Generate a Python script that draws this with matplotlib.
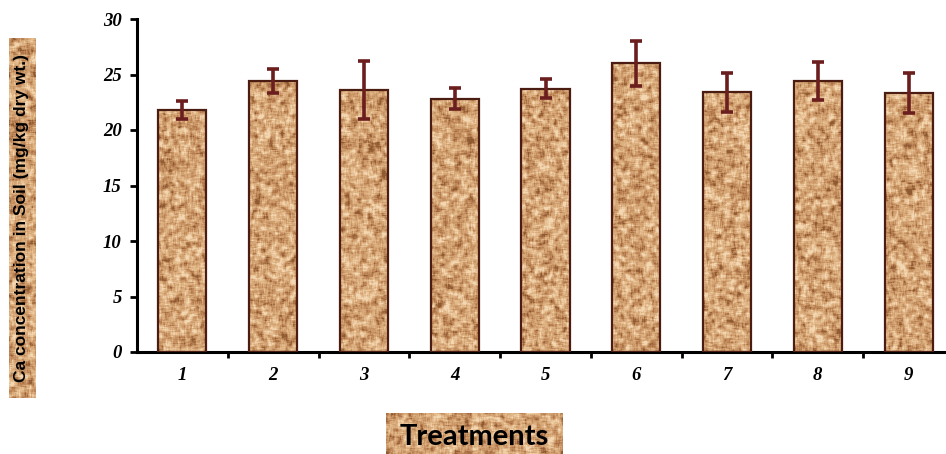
import matplotlib
matplotlib.use("Agg")
import matplotlib.pyplot as plt
import numpy as np
from matplotlib.colors import LinearSegmentedColormap
from matplotlib.ticker import FixedLocator

# ----------------------------------------
# Data
# ----------------------------------------
treatments = ["1", "2", "3", "4", "5", "6", "7", "8", "9"]
ca_mean = [21.8, 24.4, 23.6, 22.8, 23.7, 26.0, 23.4, 24.4, 23.3]
ca_err = [0.85, 1.1, 2.6, 0.95, 0.85, 2.0, 1.75, 1.7, 1.8]

# ----------------------------------------
# Cork-like texture used for bars and label boxes
# ----------------------------------------
cork_cmap = LinearSegmentedColormap.from_list(
    "cork", ["#8e5a32", "#b98052", "#d1a070", "#e3b98a", "#f3d6b2"])


def blur(a, k):
    out = np.zeros_like(a)
    for dy in range(-k, k + 1):
        for dx in range(-k, k + 1):
            out += np.roll(np.roll(a, dy, 0), dx, 1)
    return out / (2 * k + 1) ** 2


def cork(h, w, seed):
    rng = np.random.default_rng(seed)
    fine = blur(rng.random((h, w)), 1)
    coarse = blur(rng.random((h, w)), 2)
    t = 0.35 * (fine - fine.mean()) / fine.std() + (coarse - coarse.mean()) / coarse.std()
    t = (t - t.mean()) / t.std()
    return np.clip(0.55 + 0.22 * t, 0, 1)


# ----------------------------------------
# Figure
# ----------------------------------------
fig = plt.figure(figsize=(9.46, 4.54), dpi=100)
W, H = 946, 454
ax = fig.add_axes([137 / W, (H - 352) / H, 817 / W, 333 / H])

x = np.arange(len(treatments))
bar_w = 0.53
bars = ax.bar(x, ca_mean, width=bar_w, facecolor="none",
              edgecolor="#4a1c12", linewidth=1.6, zorder=3)

for i, b in enumerate(bars):
    x0 = b.get_x()
    tex = cork(int(b.get_height() * 11.1), 48, i + 1)
    ax.imshow(tex, cmap=cork_cmap, vmin=0, vmax=1,
              extent=[x0, x0 + bar_w, 0, b.get_height()],
              aspect="auto", zorder=2, interpolation="nearest")

ax.errorbar(x, ca_mean, yerr=ca_err, fmt="none", ecolor="#6b1e1e",
            elinewidth=2.6, capsize=4.5, capthick=2.6, zorder=4)

ax.set_xlim(-0.5, len(treatments) - 0.5)
ax.set_ylim(0, 30)
ax.set_yticks([0, 5, 10, 15, 20, 25, 30])
ax.set_xticks(x)
ax.set_xticklabels(treatments)
ax.xaxis.set_minor_locator(FixedLocator(np.arange(0.5, len(treatments) - 0.5, 1)))

for s in ["top", "right"]:
    ax.spines[s].set_visible(False)
for s in ["left", "bottom"]:
    ax.spines[s].set_linewidth(2.2)
    ax.spines[s].set_color("black")

ax.tick_params(axis="y", length=5, width=2, pad=6)
ax.tick_params(axis="x", which="major", length=0, pad=11)
ax.tick_params(axis="x", which="minor", length=4, width=2)

for lab in ax.get_xticklabels() + ax.get_yticklabels():
    lab.set_fontfamily("Liberation Serif")
    lab.set_fontweight("bold")
    lab.set_fontstyle("italic")
    lab.set_fontsize(13.5)

# ----------------------------------------
# Label boxes
# ----------------------------------------
# y label box
yb = fig.add_axes([9 / W, (H - 398) / H, 26 / W, 360 / H])
yb.imshow(cork(360, 26, 20), cmap=cork_cmap, vmin=0, vmax=1, aspect="auto",
          interpolation="nearest")
yb.set_xticks([])
yb.set_yticks([])
for s in yb.spines.values():
    s.set_visible(False)
yb.text(0.5, 0.5, "Ca concentration in Soil (mg/kg dry wt.)", rotation=90,
        ha="center", va="center", transform=yb.transAxes,
        fontfamily="Liberation Sans", fontweight="bold", fontsize=12.5)

# x label box
xb = fig.add_axes([386 / W, 0, 176 / W, 41 / H])
xb.imshow(cork(41, 176, 30), cmap=cork_cmap, vmin=0, vmax=1, aspect="auto",
          interpolation="nearest")
xb.set_xticks([])
xb.set_yticks([])
for s in xb.spines.values():
    s.set_visible(False)
xb.text(0.5, 0.42, "Treatments", ha="center", va="center", transform=xb.transAxes,
        fontfamily="Lato", fontweight="bold", fontsize=21)

fig.savefig("out.png", dpi=100)
